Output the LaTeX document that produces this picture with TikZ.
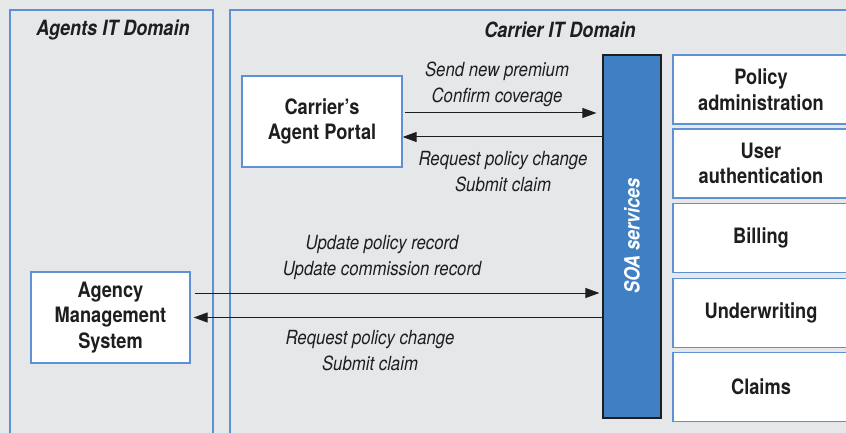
\documentclass[tikz,border=0pt]{standalone}
\usepackage{fontspec}
\setmainfont{TeX Gyre Heros}[FakeStretch=0.86]
\usetikzlibrary{arrows.meta}

\definecolor{bggray}{HTML}{E6E7E9}
\definecolor{panelblue}{HTML}{5E91D4}
\definecolor{soablue}{HTML}{3F7FC4}
\definecolor{inkgray}{HTML}{1E1E1E}

\begin{document}
\begin{tikzpicture}[x=1pt, y=-1pt, >={Triangle[length=14pt,width=10pt]},
  panel/.style={draw=panelblue, line width=1.2pt},
  sysbox/.style={draw=panelblue, fill=white, line width=1.3pt, align=center,
    inner sep=0pt, text=inkgray, font=\fontsize{21.2}{25.5}\selectfont\bfseries},
  title/.style={text=inkgray, font=\fontsize{21}{25}\selectfont\bfseries\itshape},
  msg/.style={align=center, text=inkgray, font=\fontsize{19.5}{26}\selectfont\itshape},
  flow/.style={->, line width=1pt, draw=inkgray}]
  \fill[bggray] (0,0) rectangle (846,433);
  \useasboundingbox (0,0) rectangle (846,433);

  % the two domains
  \draw[panel] (10,470) -- (10,10) -- (213,10) -- (213,470);
  \draw[panel] (230,470) -- (230,10) -- (870,10);
  \node[title] (agentsT) at (113,30) {Agents IT Domain};
  \node[title] (carrierT) at (560,30) {Carrier IT Domain};

  \node[sysbox, minimum width=160pt, minimum height=91pt] (portal) at (322,121.5) {Carrier’s\\Agent Portal};
  \node[sysbox, minimum width=159pt, minimum height=91pt] (ams) at (110.5,317.5) {Agency\\Management\\System};

  % SOA bar
  \node[draw=inkgray, fill=soablue, line width=1.2pt, minimum width=58pt, minimum height=363pt] (soa) at (632,236.5) {};
  \node[rotate=90, text=white, font=\fontsize{21}{25}\selectfont\bfseries\itshape] (soaT) at (632,236) {SOA services};

  % back-end services
  \node[sysbox, minimum width=176pt, minimum height=69pt] (padmin) at (761,89.5) {Policy\\administration};
  \node[sysbox, minimum width=176pt, minimum height=69pt] (uauth) at (761,163.5) {User\\authentication};
  \node[sysbox, minimum width=176pt, minimum height=69pt] (billing) at (761,238) {Billing};
  \node[sysbox, minimum width=176pt, minimum height=69pt] (uwrite) at (761,313) {Underwriting};
  \node[sysbox, minimum width=176pt, minimum height=69pt] (claims) at (761,387) {Claims};

  % messages
  \draw[flow] ([xshift=2pt,yshift=8.5pt]portal.east) -- ([xshift=-6pt,yshift=8.5pt]portal.east -| soa.west);
  \draw[flow] ([yshift=-15.5pt]portal.east -| soa.west) -- ([yshift=-15.5pt]portal.east);
  \draw[flow] ([xshift=4pt,yshift=24.5pt]ams.east) -- ([xshift=-3pt,yshift=24.5pt]ams.east -| soa.west);
  \draw[flow] (ams.east -| soa.west) -- ([xshift=3pt]ams.east);

  \node[msg] (sendL) at (497,84) {Send new premium\\Confirm coverage};
  \node[msg] (reqL) at (503,171.5) {Request policy change\\Submit claim};
  \node[msg] (updL) at (382,257.5) {Update policy record\\Update commission record};
  \node[msg] (req2L) at (370,351) {Request policy change\\Submit claim};
\end{tikzpicture}
\end{document}
